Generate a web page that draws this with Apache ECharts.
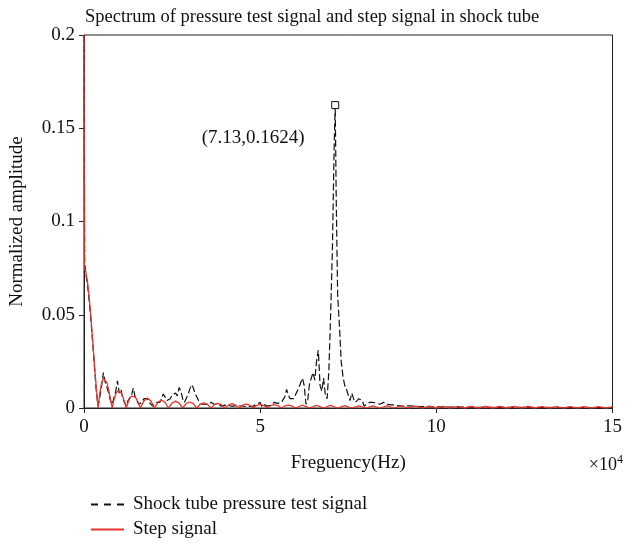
<!DOCTYPE html>
<html>
<head>
<meta charset="utf-8">
<script src="https://cdn.jsdelivr.net/npm/echarts@6/dist/echarts.min.js"></script>
<style>
  html, body { margin: 0; padding: 0; background: #fff; }
  #chart { width: 625px; height: 544px; }
</style>
</head>
<body>
<div id="chart"></div>
<script>
// Frequency in units of 1e4 Hz, amplitude normalized.
const pressureSignal = [
  [0, 0.2], [0.02, 0.078], [0.05, 0.072], [0.1, 0.066], [0.15, 0.057], [0.2, 0.046],
  [0.25, 0.034], [0.3, 0.021], [0.35, 0.009], [0.4, 0.001], [0.45, 0.006], [0.5, 0.012],
  [0.55, 0.019], [0.6, 0.014], [0.65, 0.013], [0.7, 0.008], [0.75, 0.004], [0.8, 0.002],
  [0.85, 0.003], [0.9, 0.009], [0.95, 0.0146], [1.0, 0.008], [1.05, 0.010], [1.1, 0.005],
  [1.15, 0.003], [1.2, 0.001], [1.25, 0.004], [1.3, 0.005], [1.35, 0.007], [1.4, 0.0107],
  [1.45, 0.006], [1.5, 0.005], [1.55, 0.002], [1.6, 0.001], [1.65, 0.003], [1.7, 0.005],
  [1.75, 0.004], [1.8, 0.005], [1.85, 0.003], [1.9, 0.002], [1.95, 0.001], [2.0, 0.002],
  [2.05, 0.003], [2.1, 0.004], [2.15, 0.003], [2.2, 0.005], [2.25, 0.0075], [2.3, 0.006],
  [2.35, 0.004], [2.4, 0.003], [2.45, 0.005], [2.5, 0.007], [2.55, 0.006], [2.6, 0.008],
  [2.65, 0.0065], [2.7, 0.011], [2.75, 0.009], [2.8, 0.005], [2.85, 0.003], [2.9, 0.004],
  [2.95, 0.007], [3.0, 0.010], [3.05, 0.0125], [3.1, 0.011], [3.15, 0.008], [3.2, 0.007],
  [3.25, 0.004], [3.3, 0.004], [3.35, 0.002], [3.4, 0.001], [3.5, 0.002], [3.6, 0.003],
  [3.7, 0.002], [3.8, 0.002], [3.9, 0.001], [4.0, 0.0015], [4.2, 0.001], [4.4, 0.0012],
  [4.6, 0.0008], [4.8, 0.001], [4.9, 0.002], [5.0, 0.003], [5.05, 0.0008], [5.1, 0.002],
  [5.2, 0.001], [5.3, 0.0015], [5.4, 0.003], [5.5, 0.0025], [5.6, 0.003], [5.65, 0.002],
  [5.7, 0.006], [5.75, 0.010], [5.8, 0.007], [5.85, 0.005], [5.9, 0.004], [5.95, 0.005],
  [6.0, 0.007], [6.05, 0.006], [6.1, 0.011], [6.15, 0.0135], [6.2, 0.016], [6.25, 0.012],
  [6.3, 0.002], [6.35, 0.004], [6.4, 0.013], [6.45, 0.016], [6.5, 0.019], [6.55, 0.015],
  [6.6, 0.025], [6.65, 0.031], [6.7, 0.012], [6.75, 0.009], [6.8, 0.016], [6.85, 0.007],
  [6.9, 0.005], [6.95, 0.02], [7.0, 0.05], [7.05, 0.085], [7.1, 0.14], [7.13, 0.1624],
  [7.16, 0.11], [7.2, 0.06], [7.25, 0.044], [7.3, 0.025], [7.35, 0.017], [7.4, 0.012],
  [7.45, 0.010], [7.5, 0.007], [7.55, 0.004], [7.6, 0.008], [7.65, 0.005], [7.7, 0.003],
  [7.75, 0.004], [7.8, 0.005], [7.85, 0.006], [7.9, 0.004], [7.95, 0.001], [8.0, 0.002],
  [8.1, 0.003], [8.2, 0.003], [8.3, 0.0025], [8.4, 0.002], [8.5, 0.003], [8.6, 0.002],
  [8.8, 0.0015], [9.0, 0.001], [9.2, 0.0012], [9.5, 0.0008], [10, 0.0006], [10.5, 0.0005],
  [11, 0.0004], [12, 0.0003], [13, 0.0003], [14, 0.0002], [15, 0.0002]
];

const stepSignal = [
  [0, 0.2], [0.01, 0.0748], [0.05, 0.0732], [0.1, 0.0675], [0.15, 0.0588], [0.2, 0.0478],
  [0.25, 0.0353], [0.3, 0.0225], [0.35, 0.0105], [0.4, 0], [0.45, 0.0081], [0.5, 0.0135],
  [0.55, 0.0158], [0.6, 0.0157], [0.65, 0.0136], [0.7, 0.0097], [0.75, 0.0049], [0.8, 0],
  [0.85, 0.0043], [0.9, 0.0075], [0.95, 0.0091], [1.0, 0.0093], [1.05, 0.0083], [1.1, 0.0061],
  [1.15, 0.0032], [1.2, 0], [1.25, 0.0029], [1.3, 0.0051], [1.35, 0.0064], [1.4, 0.0067],
  [1.45, 0.006], [1.5, 0.0045], [1.55, 0.0024], [1.6, 0],
  [1.7, 0.0037], [1.8, 0.0053], [1.9, 0.0037], [2.0, 0],
  [2.1, 0.003], [2.2, 0.0043], [2.3, 0.003], [2.4, 0],
  [2.5, 0.0026], [2.6, 0.0037], [2.7, 0.0026], [2.8, 0],
  [2.9, 0.0023], [3.0, 0.0032], [3.1, 0.0023], [3.2, 0],
  [3.3, 0.002], [3.4, 0.0028], [3.5, 0.002], [3.6, 0],
  [3.7, 0.0018], [3.8, 0.0025], [3.9, 0.0018], [4.0, 0],
  [4.1, 0.0016], [4.2, 0.0023], [4.3, 0.0016], [4.4, 0],
  [4.5, 0.0015], [4.6, 0.0021], [4.7, 0.0015], [4.8, 0],
  [4.9, 0.0013], [5.0, 0.0019], [5.1, 0.0013], [5.2, 0],
  [5.3, 0.0013], [5.4, 0.0018], [5.5, 0.0013], [5.6, 0],
  [5.7, 0.0011], [5.8, 0.0016], [5.9, 0.0011], [6.0, 0],
  [6.2, 0.0015], [6.4, 0], [6.6, 0.0014], [6.8, 0], [7.0, 0.0014], [7.2, 0],
  [7.4, 0.0013], [7.6, 0], [7.8, 0.0012], [8.0, 0], [8.2, 0.0012], [8.4, 0],
  [8.6, 0.0011], [8.8, 0], [9.0, 0.0011], [9.2, 0], [9.4, 0.001], [9.6, 0],
  [9.8, 0.001], [10.0, 0], [10.2, 0.0009], [10.4, 0], [10.6, 0.0009], [10.8, 0],
  [11.0, 0.0009], [11.2, 0], [11.4, 0.0008], [11.6, 0], [11.8, 0.0008], [12.0, 0],
  [12.2, 0.0008], [12.4, 0], [12.6, 0.0008], [12.8, 0], [13.0, 0.0007], [13.2, 0],
  [13.4, 0.0007], [13.6, 0], [13.8, 0.0007], [14.0, 0], [14.2, 0.0007], [14.4, 0],
  [14.6, 0.0007], [14.8, 0], [15.0, 0.0006]
];

const peakPoint = [7.13, 0.1624];
const seriesNames = ['Shock tube pressure test signal', 'Step signal'];
const xTicks = { min: 0, max: 15, interval: 5 };
const yTicks = { min: 0, max: 0.2, interval: 0.05 };

const FONT = 'Liberation Serif';
const chart = echarts.init(document.getElementById('chart'));

// One legend block per series so the two entries stack vertically.
function legendRow(name, top, lineStyle) {
  return {
    data: [name],
    left: 85, top: top,
    itemWidth: 33, itemHeight: 14,
    itemStyle: { opacity: 0 },
    lineStyle: lineStyle,
    textStyle: { fontFamily: FONT, fontSize: 19, color: '#111', padding: [0, 0, 0, 4] }
  };
}

chart.setOption({
  animation: false,
  backgroundColor: '#fff',
  title: {
    text: 'Spectrum of pressure test signal and step signal in shock tube',
    left: 80, top: 3,
    textStyle: { fontFamily: FONT, fontSize: 18.5, fontWeight: 'normal', color: '#111' }
  },
  grid: {
    left: 84, right: 6, top: 35, bottom: 136,
    show: true, borderColor: '#222', borderWidth: 1, backgroundColor: 'transparent'
  },
  legend: [
    legendRow(seriesNames[0], 490, { type: [7, 6] }),
    legendRow(seriesNames[1], 515, {})
  ],
  xAxis: {
    type: 'value',
    min: xTicks.min, max: xTicks.max, interval: xTicks.interval,
    name: 'Freguency(Hz)',
    nameLocation: 'middle', nameGap: 46,
    nameTextStyle: { fontFamily: FONT, fontSize: 19, color: '#111' },
    axisLine: { lineStyle: { color: '#222', width: 1 } },
    axisTick: { show: true, length: 5, lineStyle: { color: '#222' } },
    axisLabel: { fontFamily: FONT, fontSize: 19, color: '#111', margin: 10 },
    splitLine: { show: false }
  },
  yAxis: {
    type: 'value',
    min: yTicks.min, max: yTicks.max, interval: yTicks.interval,
    name: 'Normalized amplitude',
    nameLocation: 'middle', nameGap: 57,
    nameTextStyle: { fontFamily: FONT, fontSize: 19, color: '#111' },
    axisLine: { show: true, lineStyle: { color: '#222', width: 1 } },
    axisTick: { show: true, length: 5, lineStyle: { color: '#222' } },
    axisLabel: { fontFamily: FONT, fontSize: 19, color: '#111', margin: 9 },
    splitLine: { show: false }
  },
  graphic: [{
    type: 'text',
    right: 2, top: 454,
    style: {
      text: '{a|×10}{s|4}',
      rich: {
        a: { fontFamily: FONT, fontSize: 18, fill: '#111' },
        s: { fontFamily: FONT, fontSize: 12, fill: '#111', verticalAlign: 'top', padding: [0, 0, 10, 0] }
      }
    }
  }],
  series: [
    {
      name: seriesNames[0],
      type: 'line',
      data: pressureSignal,
      symbol: 'none',
      sampling: 'none',
      lineStyle: { color: '#111', width: 1.2, type: [7, 3] },
      itemStyle: { color: '#111' },
      z: 2
    },
    {
      name: seriesNames[1],
      type: 'line',
      data: stepSignal,
      symbol: 'none',
      sampling: 'none',
      lineStyle: { color: '#e5352b', width: 1.3 },
      itemStyle: { color: '#e5352b' },
      z: 3
    },
    {
      name: 'peak',
      type: 'scatter',
      data: [peakPoint],
      symbol: 'rect',
      symbolSize: 7,
      itemStyle: { color: '#fff', borderColor: '#111', borderWidth: 1, opacity: 1 },
      label: {
        show: true,
        formatter: '(' + peakPoint[0] + ',' + peakPoint[1] + ')',
        position: 'inside',
        offset: [-82, 33],
        fontFamily: FONT, fontSize: 19, color: '#111',
        textBorderWidth: 0
      },
      z: 4
    }
  ]
});
</script>
</body>
</html>
